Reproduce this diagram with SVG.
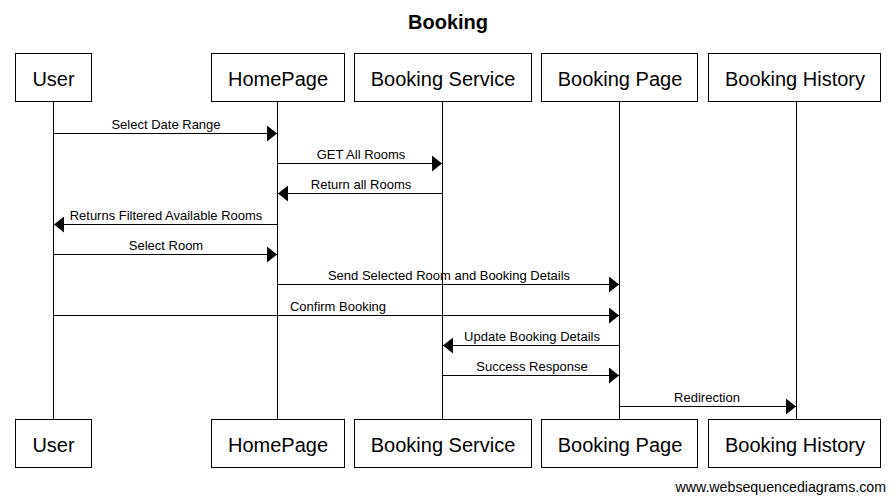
<svg xmlns="http://www.w3.org/2000/svg" width="896" height="502" viewBox="0 0 896 502">
  <style>
    .box { fill: #fff; stroke: #000; stroke-width: 1; }
    .life { stroke: #000; stroke-width: 1; fill: none; }
    .msg { stroke: #000; stroke-width: 1; fill: none; }
    .name { font-family: "Liberation Sans", Arial, sans-serif; font-size: 20px; fill: #000; text-anchor: middle; }
    .lbl { font-family: "Liberation Sans", Arial, sans-serif; font-size: 13px; fill: #000; text-anchor: middle; }
    .title { font-family: "Liberation Sans", Arial, sans-serif; font-size: 20px; font-weight: bold; fill: #000; text-anchor: middle; }
    .foot { font-family: "Liberation Sans", Arial, sans-serif; font-size: 14.2px; fill: #000; text-anchor: end; }
  </style>
  <defs>
    <marker id="head" markerWidth="10" markerHeight="16" refX="10" refY="8" orient="auto" markerUnits="userSpaceOnUse">
      <path d="M0,0 L10,8 L0,16 Z" fill="#000"/>
    </marker>
  </defs>
  <rect width="896" height="502" fill="#fff"/>

  <text class="title" x="448" y="29">Booking</text>

  <!-- lifelines -->
  <g id="lifelines">
    <line class="life" x1="53.5" y1="102" x2="53.5" y2="420"/>
    <line class="life" x1="277.5" y1="102" x2="277.5" y2="420"/>
    <line class="life" x1="442.5" y1="102" x2="442.5" y2="420"/>
    <line class="life" x1="619.5" y1="102" x2="619.5" y2="420"/>
    <line class="life" x1="796.5" y1="102" x2="796.5" y2="420"/>
  </g>

  <!-- participants, top and bottom -->
  <g id="user">
    <rect class="box" x="15.5" y="53.5" width="76" height="48"/>
    <text class="name" x="53.5" y="86">User</text>
    <rect class="box" x="15.5" y="419.5" width="76" height="48"/>
    <text class="name" x="53.5" y="452">User</text>
  </g>
  <g id="homepage">
    <rect class="box" x="211.5" y="53.5" width="133" height="48"/>
    <text class="name" x="278" y="86">HomePage</text>
    <rect class="box" x="211.5" y="419.5" width="133" height="48"/>
    <text class="name" x="278" y="452">HomePage</text>
  </g>
  <g id="booking-service">
    <rect class="box" x="354.5" y="53.5" width="177" height="48"/>
    <text class="name" x="443" y="86">Booking Service</text>
    <rect class="box" x="354.5" y="419.5" width="177" height="48"/>
    <text class="name" x="443" y="452">Booking Service</text>
  </g>
  <g id="booking-page">
    <rect class="box" x="541.5" y="53.5" width="156" height="48"/>
    <text class="name" x="620" y="86">Booking Page</text>
    <rect class="box" x="541.5" y="419.5" width="156" height="48"/>
    <text class="name" x="620" y="452">Booking Page</text>
  </g>
  <g id="booking-history">
    <rect class="box" x="708.5" y="53.5" width="172" height="48"/>
    <text class="name" x="795" y="86">Booking History</text>
    <rect class="box" x="708.5" y="419.5" width="172" height="48"/>
    <text class="name" x="795" y="452">Booking History</text>
  </g>

  <!-- messages -->
  <g id="connectors">
    <line class="msg" x1="53.5" y1="133.5" x2="277" y2="133.5" marker-end="url(#head)"/>
    <text class="lbl" x="166" y="129">Select Date Range</text>

    <line class="msg" x1="277.5" y1="163.5" x2="442" y2="163.5" marker-end="url(#head)"/>
    <text class="lbl" x="361" y="159">GET All Rooms</text>

    <line class="msg" x1="442.5" y1="193.5" x2="278" y2="193.5" marker-end="url(#head)"/>
    <text class="lbl" x="361" y="189">Return all Rooms</text>

    <line class="msg" x1="277.5" y1="224.5" x2="54" y2="224.5" marker-end="url(#head)"/>
    <text class="lbl" x="166" y="220">Returns Filtered Available Rooms</text>

    <line class="msg" x1="53.5" y1="254.5" x2="277" y2="254.5" marker-end="url(#head)"/>
    <text class="lbl" x="166" y="250">Select Room</text>

    <line class="msg" x1="277.5" y1="284.5" x2="619" y2="284.5" marker-end="url(#head)"/>
    <text class="lbl" x="449" y="280">Send Selected Room and Booking Details</text>

    <line class="msg" x1="53.5" y1="315.5" x2="619" y2="315.5" marker-end="url(#head)"/>
    <text class="lbl" x="338" y="311">Confirm Booking</text>

    <line class="msg" x1="619.5" y1="345.5" x2="443" y2="345.5" marker-end="url(#head)"/>
    <text class="lbl" x="532" y="341">Update Booking Details</text>

    <line class="msg" x1="442.5" y1="375.5" x2="619" y2="375.5" marker-end="url(#head)"/>
    <text class="lbl" x="532" y="371">Success Response</text>

    <line class="msg" x1="619.5" y1="406.5" x2="796" y2="406.5" marker-end="url(#head)"/>
    <text class="lbl" x="707" y="402">Redirection</text>
  </g>

  <text class="foot" x="886" y="492">www.websequencediagrams.com</text>
</svg>
